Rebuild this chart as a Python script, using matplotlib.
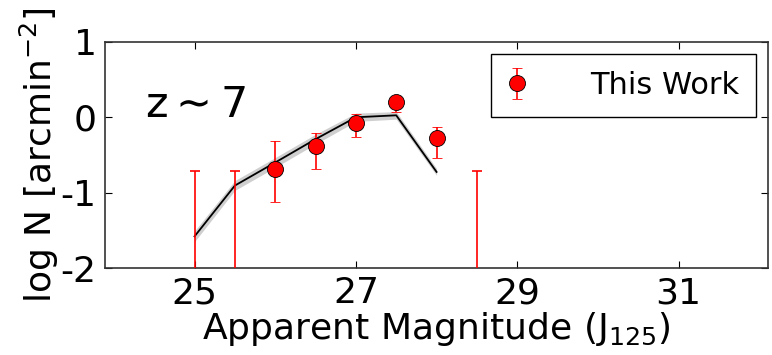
import matplotlib
matplotlib.use("Agg")
import matplotlib.pyplot as plt
import numpy as np

plt.rcParams['font.family'] = ['DejaVu Sans']
plt.rcParams['axes.unicode_minus'] = False
plt.rcParams['mathtext.default'] = 'regular'

# Data points (This Work)
mag = [26.0, 26.5, 27.0, 27.5, 28.0]
logn = [-0.685, -0.376, -0.076, 0.199, -0.279]
err_lo = [0.445, 0.304, 0.189, 0.133, 0.261]
err_hi = [0.365, 0.172, 0.124, 0.080, 0.154]

# Upper limits
lim_mag = [25.0, 25.5, 28.5]
lim_val = [-0.716, -0.716, -0.716]
lim_floor = [-3.0, -3.0, -3.0]

# Model line with uncertainty band
model_mag = [25.0, 25.5, 26.0, 26.5, 27.0, 27.5, 28.0]
model_val = [-1.58, -0.906, -0.60, -0.29, 0.0, 0.026, -0.725]
model_lo = [-1.65, -0.97, -0.665, -0.355, -0.055, -0.025, -0.77]
model_hi = [-1.51, -0.84, -0.535, -0.225, 0.055, 0.075, -0.68]

fig = plt.figure(figsize=(7.72, 3.55), dpi=100)
ax = fig.add_axes([0.136, 0.245, 0.859, 0.637])

ax.fill_between(model_mag, model_lo, model_hi, color='#bfbfbf', alpha=0.75, lw=0, zorder=1)
ax.plot(model_mag, model_val, color='black', lw=1.3, zorder=2)

lo = [v - f for v, f in zip(lim_val, lim_floor)]
ax.errorbar(lim_mag, lim_val, yerr=[lo, [0]*len(lim_val)], fmt='none',
            ecolor='red', elinewidth=1.2, capsize=3.3, capthick=1.2, zorder=3)

ax.errorbar(mag, logn, yerr=[err_lo, err_hi], fmt='o', color='red', mfc='red',
            mec='black', mew=0.6, ms=11.5, ecolor='red', elinewidth=1.2,
            capsize=3.3, capthick=1.2, zorder=4, label='This Work')

ax.set_xlim(23.89, 32.11)
ax.set_ylim(-2, 1)
ax.set_xticks([25, 27, 29, 31])
ax.set_yticks([-2, -1, 0, 1])
ax.tick_params(direction='in', length=5, width=0.8, top=True, right=True,
               labelsize=26, pad=6)
for s in ax.spines.values():
    s.set_linewidth(1.2)
    s.set_color('#333333')

ax.set_xlabel('Apparent Magnitude (J$_{125}$)', fontsize=26, labelpad=0)
ax.set_ylabel('log N [arcmin$^{-2}$]', fontsize=26, labelpad=0)

ax.text(24.38, 0.0, 'z$\\sim$7', fontsize=31, ha='left', va='baseline')

leg = ax.legend(loc='upper right', fontsize=22, numpoints=1, fancybox=False,
                framealpha=1, edgecolor='black', borderpad=0.55,
                handletextpad=2.1, handlelength=0.6, borderaxespad=0.4)
leg.get_frame().set_linewidth(1.0)

fig.savefig('out.png', dpi=100)
